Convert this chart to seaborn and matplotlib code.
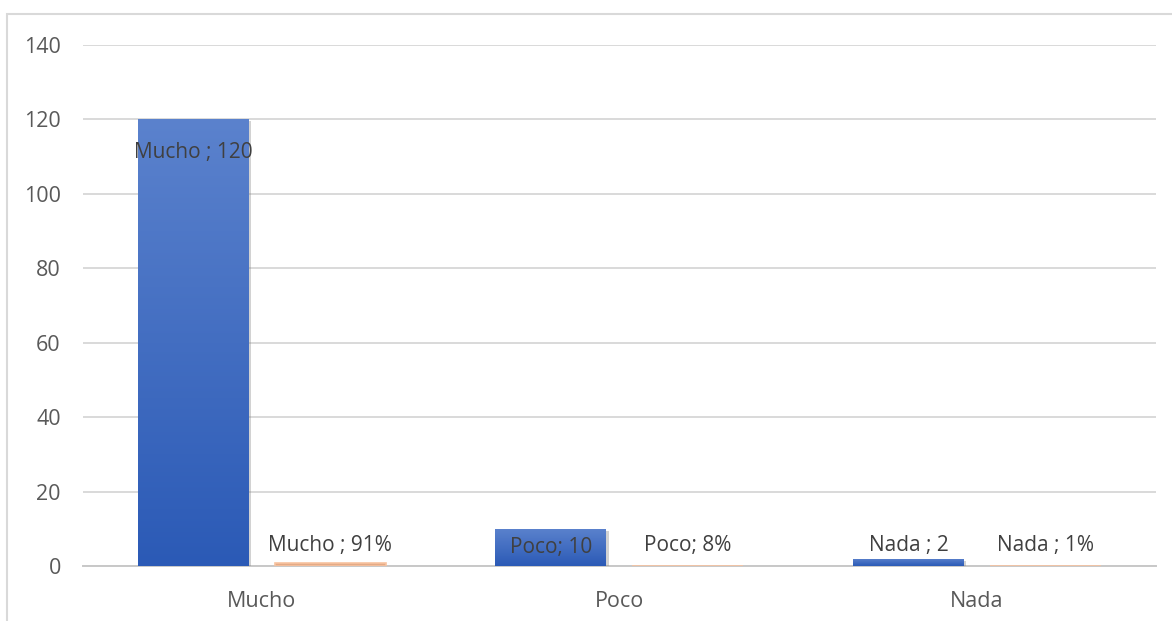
import pandas as pd
import seaborn as sns
import matplotlib.pyplot as plt
import matplotlib.patheffects as pe
import numpy as np
from matplotlib.colors import LinearSegmentedColormap
from matplotlib.patches import Rectangle

# Data
categorias = ['Mucho', 'Poco', 'Nada']
series = ['Cantidad', 'Porcentaje']
cantidad = [120, 10, 2]
porcentaje = [0.91, 0.08, 0.01]
etiquetas_cantidad = ['Mucho ; 120', 'Poco; 10', 'Nada ; 2']
etiquetas_porcentaje = ['Mucho ; 91%', 'Poco; 8%', 'Nada ; 1%']
yticks = [0, 20, 40, 60, 80, 100, 120, 140]

df = pd.DataFrame({
    'categoria': categorias * 2,
    'serie': [series[0]] * 3 + [series[1]] * 3,
    'valor': cantidad + porcentaje,
})

sns.set_style('white')
plt.rcParams['font.family'] = ['Open Sans', 'DejaVu Sans']

fig = plt.figure(figsize=(11.72, 6.21), dpi=100)
ax = fig.add_axes([0.0708, 0.0886, 0.9155, 0.839])

# outer chart frame (only top and left visible in the crop)
fig.patches.append(Rectangle((7 / 1172, -0.1), 1.2, 0.1 + 1 - 14 / 621,
                             transform=fig.transFigure, fill=False,
                             edgecolor='#D9D9D9', linewidth=1.5))

sns.barplot(data=df, x='categoria', y='valor', hue='serie',
            palette=['#3B66C0', '#F4A877'], width=0.766, gap=0.19,
            legend=False, ax=ax, zorder=3)

ax.set_ylim(0, 140)
ax.set_xlim(-0.5, 2.5)
xlim = ax.get_xlim()

# gradient + soft shadow on the blue bars
cmap = LinearSegmentedColormap.from_list('azul', ['#2B5AB6', '#5B82CD'])
grad = np.linspace(0, 1, 256).reshape(-1, 1)
for bar in ax.containers[0]:
    x0, w, h = bar.get_x(), bar.get_width(), bar.get_height()
    bar.set_edgecolor('none')
    bar.set_linewidth(0)
    bar.set_path_effects([pe.SimplePatchShadow(offset=(1.5, -1.5), alpha=0.35,
                                               shadow_rgbFace='#7F7F7F'),
                          pe.Normal()])
    im = ax.imshow(grad, cmap=cmap, extent=[x0, x0 + w, 0, h], origin='lower',
                   aspect='auto', zorder=3.5, interpolation='bicubic')
    im.set_clip_path(bar)

# thin orange bars still show as a hairline
for bar in ax.containers[1]:
    bar.set_edgecolor('#F8C3A0')
    bar.set_linewidth(1.2)

ax.set_xlim(xlim)
ax.set_ylim(0, 140)

# data labels
px_per_unit = ax.bbox.height / 140
for bar, txt in zip(ax.containers[0], etiquetas_cantidad):
    cx = bar.get_x() + bar.get_width() / 2
    hpx = bar.get_height() * px_per_unit
    if hpx > 30:
        off = -min(33, hpx / 2)
    else:
        off = max(hpx + 13, 20) - hpx
    ax.annotate(txt, xy=(cx, bar.get_height()), xytext=(0, off),
                textcoords='offset pixels', ha='center', va='center',
                fontsize=15, color='#404040', zorder=5)
for bar, txt in zip(ax.containers[1], etiquetas_porcentaje):
    cx = bar.get_x() + bar.get_width() / 2
    hpx = bar.get_height() * px_per_unit
    off = max(hpx + 13, 20) - hpx
    ax.annotate(txt, xy=(cx, bar.get_height()), xytext=(0, off),
                textcoords='offset pixels', ha='center', va='center',
                fontsize=15, color='#404040', zorder=5)

ax.set_yticks(yticks)
ax.yaxis.grid(True, color='#D9D9D9', linewidth=1.4, zorder=0)
ax.set_axisbelow(True)
for s in ['top', 'right', 'left']:
    ax.spines[s].set_visible(False)
ax.spines['bottom'].set_color('#C8C8C8')
ax.spines['bottom'].set_linewidth(1.4)
ax.tick_params(axis='both', length=0, labelsize=15.5, labelcolor='#595959')
ax.tick_params(axis='y', pad=16)
ax.tick_params(axis='x', pad=18)
ax.set_xlabel('')
ax.set_ylabel('')

fig.savefig('out.png', dpi=100)
